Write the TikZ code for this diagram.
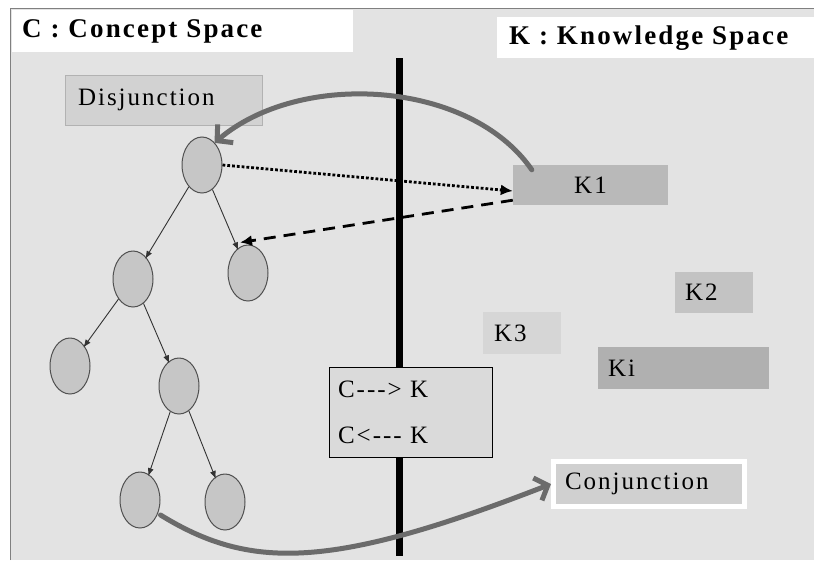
\documentclass[tikz,border=0pt]{standalone}
\usepackage{fontspec}
\setmainfont{Liberation Serif}[LetterSpace=8]
\usetikzlibrary{shapes.geometric,arrows.meta,calc}
\definecolor{bgc}{HTML}{E3E3E3}
\definecolor{framec}{HTML}{808080}
\definecolor{disc}{HTML}{D2D2D2}
\definecolor{kone}{HTML}{B9B9B9}
\definecolor{ktwo}{HTML}{C3C3C3}
\definecolor{kthree}{HTML}{D6D6D6}
\definecolor{kic}{HTML}{B0B0B0}
\definecolor{conjc}{HTML}{D0D0D0}
\definecolor{ckc}{HTML}{DADADA}
\definecolor{ellc}{HTML}{C6C6C6}
\definecolor{elld}{HTML}{505050}
\definecolor{thickc}{HTML}{6B6B6B}
\tikzset{
  treenode/.style={ellipse, draw=elld, line width=1pt, fill=ellc, minimum width=40pt, minimum height=56pt, inner sep=0pt},
  treeedge/.style={draw=black!80, line width=0.9pt, -{Latex[length=8pt,width=6pt]}, shorten >=-2pt},
  kbox/.style={rectangle, inner sep=0pt, align=left, font=\fontsize{25}{25}\selectfont},
  bigarrow/.style={draw=thickc, line width=5pt, line cap=round, -{Straight Barb[length=11pt,width=24pt,line width=5pt]}},
  titlefont/.style={font=\fontsize{27}{27}\selectfont\bfseries}
}
\begin{document}
\begin{tikzpicture}[x=1pt,y=-1pt]
\useasboundingbox (0,0) rectangle (814,560);
% background and frame
\fill[bgc] (10,8) rectangle (814,560);
\draw[framec, line width=1pt] (10,560) -- (10,8) -- (814,8);
% titles
\node[fill=white, minimum width=341pt, minimum height=42pt, inner sep=0pt, anchor=north west] (ctbox) at (12,10) {};
\node[titlefont, anchor=west, inner sep=0pt] (ctitle) at (22,31) {C : Concept Space};
\node[fill=white, minimum width=317pt, minimum height=41pt, inner sep=0pt, anchor=north west] (ktbox) at (497,17) {};
\node[titlefont, anchor=west, inner sep=0pt] (ktitle) at (509,38) {K : Knowledge Space};
% vertical separator
\coordinate (vtop) at (399,58);
\coordinate (vbot) at (399,556);
\draw[black, line width=7pt] (vtop) -- (vbot);
% C <-> K box
\node[kbox, draw=black, line width=0.8pt, fill=ckc, minimum width=163pt, minimum height=90pt, text width=145pt, inner xsep=9pt, font=\fontsize{25}{46}\selectfont] (ck) at (410.5,412) {C{-}{-}{-}> K\\C<{-}{-}{-} K};
% labels
\node[kbox, fill=disc, draw=disc!85!black, line width=0.6pt, minimum width=197pt, minimum height=50pt, text width=171pt, inner xsep=13pt] (dis) at (163.5,100) {Disjunction};
\node[kbox, fill=kone, minimum width=155pt, minimum height=40pt, align=center] (k1) at (590.5,185) {K1};
\node[kbox, fill=ktwo, minimum width=78pt, minimum height=41pt, text width=58pt, inner xsep=10pt] (k2) at (714,292.5) {K2};
\node[kbox, fill=kthree, minimum width=78pt, minimum height=42pt, text width=56pt, inner xsep=11pt] (k3) at (522,333) {K3};
\node[kbox, fill=kic, minimum width=171pt, minimum height=42pt, text width=151pt, inner xsep=10pt] (ki) at (683.5,368) {Ki};
\node[kbox, fill=conjc, draw=white, line width=5pt, minimum width=191pt, minimum height=45.5pt, text width=168pt, inner xsep=11.5pt] (conj) at (649,484) {Conjunction};
% tree
\node[treenode] (root) at (202,165) {};
\node[treenode] (n2) at (133,279) {};
\node[treenode] (n3) at (248,273) {};
\node[treenode] (n4) at (70,366) {};
\node[treenode] (n5) at (179,386) {};
\node[treenode] (n6) at (140,500) {};
\node[treenode] (n7) at (225,502) {};
\draw[treeedge] (root) -- (n2);
\draw[treeedge] (root) -- (n3);
\draw[treeedge] (n2) -- (n4);
\draw[treeedge] (n2) -- (n5);
\draw[treeedge] (n5) -- (n6);
\draw[treeedge] (n5) -- (n7);
% mappings
\draw[black, line width=2.8pt, dotted, -{Latex[length=12pt,width=11pt]}] (root.east) -- ($(k1.west)+(0,6)$);
\draw[black, line width=2.8pt, dash pattern=on 12pt off 8pt, -{Latex[length=12pt,width=11pt]}] ($(k1.south west)+(0,-5)$) -- ($(n3.north)+(-8,-2)$);
\draw[bigarrow] ($(k1.north west)+(19,5)$) .. controls (470,80) and (300,70) .. ($(root.north east)+(-2,-2)$);
\draw[bigarrow] ($(n6.east)+(0,15)$) .. controls (250,570) and (330,570) .. (conj.west);
\end{tikzpicture}
\end{document}
